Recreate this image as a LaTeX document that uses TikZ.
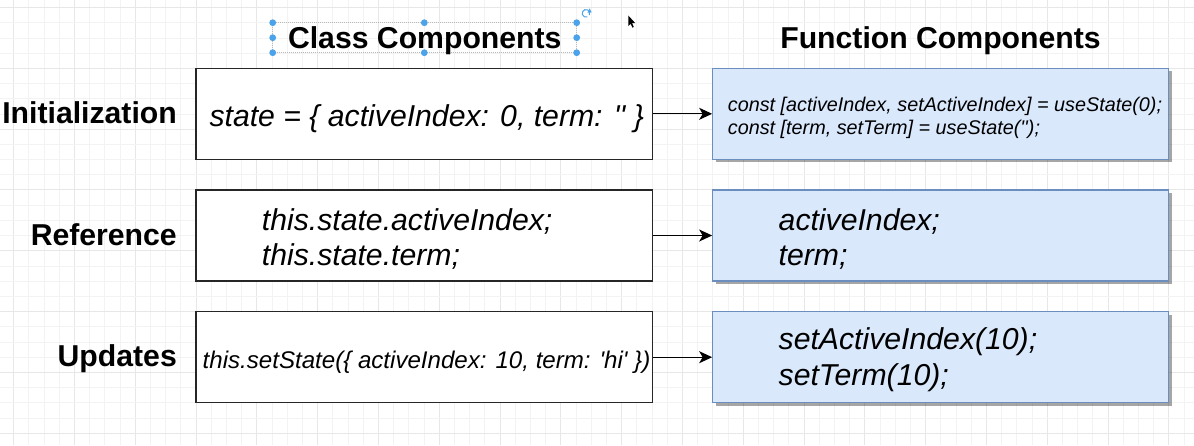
\documentclass[tikz,border=0pt]{standalone}
\usepackage{fontspec}
\setmainfont{Liberation Sans}
\usetikzlibrary{arrows.meta,shadows}
\definecolor{fcfill}{HTML}{DAE8FC}
\definecolor{fcdraw}{HTML}{6C8EBF}
\definecolor{hblue}{HTML}{4DA3EA}
\definecolor{gminor}{HTML}{F3F3F3}
\definecolor{gmajor}{HTML}{E7E7E7}
\begin{document}
\begin{tikzpicture}[x=1pt,y=-1pt,
  minorgrid/.style={draw=gminor,line width=0.8pt},
  majorgrid/.style={draw=gmajor,line width=0.9pt},
  cbox/.style={draw=black!85,fill=white,line width=1.3pt,minimum width=456.7pt,minimum height=91pt,inner sep=0pt},
  fbox/.style={draw=fcdraw,fill=fcfill,line width=1.3pt,minimum width=456pt,minimum height=91pt,inner sep=0pt,
    drop shadow={shadow xshift=3pt,shadow yshift=-3pt,opacity=0.35,fill=black}},
  heading/.style={font=\fontsize{30.2}{36}\selectfont\bfseries,inner sep=0pt,anchor=base},
  rowlabel/.style={font=\fontsize{30.2}{36}\selectfont\bfseries,inner sep=0pt,anchor=base east},
  bigcode/.style={font=\fontsize{30.2}{36}\selectfont\itshape,inner sep=0pt},
  midcode/.style={font=\fontsize{24.1}{29}\selectfont\itshape,inner sep=0pt},
  smallcode/.style={font=\fontsize{19.8}{23}\selectfont\itshape,inner sep=0pt,anchor=base west},
  arr/.style={draw=black,line width=1.3pt,-{Stealth[length=13pt,width=12pt,inset=3.5pt]}},
  handle/.style={fill=hblue}
]
\useasboundingbox (0,0) rectangle (1194,445);
\fill[white] (0,0) rectangle (1194,445);
% grid
\foreach \i in {-12,...,65}{
  \pgfmathsetmacro\xx{196+15.2*\i}
  \pgfmathparse{mod(\i,4)==0 ? 1 : 0}
  \ifnum\pgfmathresult=1 \draw[majorgrid] (\xx,0) -- (\xx,445);
  \else \draw[minorgrid] (\xx,0) -- (\xx,445); \fi
}
\foreach \j in {-4,...,24}{
  \pgfmathsetmacro\yy{68.3+15.2*\j}
  \pgfmathparse{mod(\j,4)==0 ? 1 : 0}
  \ifnum\pgfmathresult=1 \draw[majorgrid] (0,\yy) -- (1194,\yy);
  \else \draw[minorgrid] (0,\yy) -- (1194,\yy); \fi
}
% selection around heading
\draw[gray!55,line width=0.5pt,dash pattern=on 1pt off 1pt] (272.7,22.7) rectangle (576.7,52.7);
\foreach \hx in {272.7,424.3,576.7}{
  \fill[handle] (\hx,22.7) circle (3.4);
  \fill[handle] (\hx,52.7) circle (3.4);
}
\fill[handle] (272.7,37.7) circle (3.4);
\fill[handle] (576.7,37.7) circle (3.4);
\draw[hblue,line width=1pt] (586,13.3) ++(70:3.8) arc (70:390:3.8);
\fill[hblue] (589.6,8.4) -- (587.6,12.8) -- (591.6,12.4) -- cycle;
% cursor
\fill[black] (628.3,15.5) -- (628.3,26) -- (630.6,23.7) -- (632.4,27.6) -- (633.8,27) -- (632.1,23.2) -- (635.3,23.2) -- cycle;
% headings
\node[heading] (hc) at (424.8,48.3) {Class Components};
\node[heading] (hf) at (940.5,48.3) {Function Components};
% row labels
\node[rowlabel] (rl1) at (177,123.4) {Initialization};
\node[rowlabel] (rl2) at (177,245.3) {Reference};
\node[rowlabel] (rl3) at (177,366.9) {Updates};
% boxes
\node[cbox] (L1) at (424.35,113.8) {};
\node[cbox] (L2) at (424.35,235.5) {};
\node[cbox] (L3) at (424.35,357.2) {};
\node[fbox] (R1) at (940.8,113.8) {};
\node[fbox] (R2) at (940.8,235.5) {};
\node[fbox] (R3) at (940.8,357.2) {};
% texts
\node[bigcode,anchor=base] (t1) at (426.7,126) {state = \{ activeIndex: 0, term: \textquotesingle\textquotesingle\ \}};
\node[bigcode,anchor=base west] (t2a) at (261.7,230) {this.state.activeIndex;};
\node[bigcode,anchor=base west] (t2b) at (261.7,265) {this.state.term;};
\node[midcode,anchor=base] (t3) at (426.5,368) {this.setState(\{ activeIndex: 10, term: \textquotesingle hi\textquotesingle\ \})};
\node[smallcode] (u1a) at (727.7,111.7) {const [activeIndex, setActiveIndex] = useState(0);};
\node[smallcode] (u1b) at (727.7,134.2) {const [term, setTerm] = useState(\textquotesingle\textquotesingle);};
\node[bigcode,anchor=base west] (u2a) at (778.5,230) {activeIndex;};
\node[bigcode,anchor=base west] (u2b) at (778.5,265) {term;};
\node[bigcode,anchor=base west] (u3a) at (778.5,349.5) {setActiveIndex(10);};
\node[bigcode,anchor=base west] (u3b) at (778.5,385) {setTerm(10);};
% connectors
\draw[arr] (L1.east) -- (R1.west);
\draw[arr] (L2.east) -- (R2.west);
\draw[arr] (L3.east) -- (R3.west);
\end{tikzpicture}
\end{document}
